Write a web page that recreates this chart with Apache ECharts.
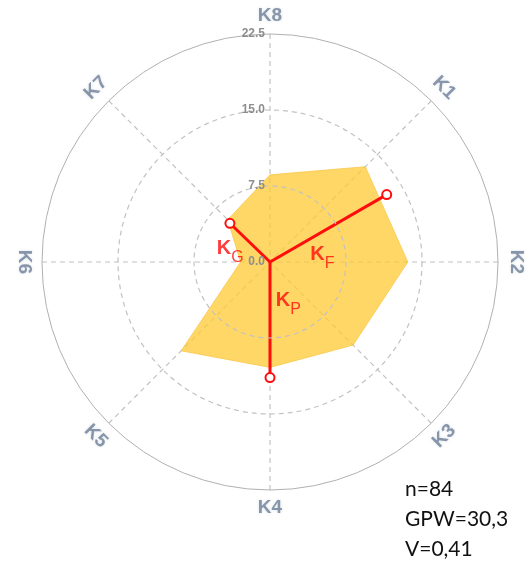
<!DOCTYPE html>
<html>
<head>
<meta charset="utf-8">
<script src="https://cdn.jsdelivr.net/npm/echarts@6/dist/echarts.min.js"></script>
<style>
  html, body { margin: 0; padding: 0; background: #fff; }
  #chart { width: 528px; height: 564px; }
</style>
</head>
<body>
<div id="chart"></div>
<script>
// sectors, clockwise from top-right; K8 sits at the top
const sectors = ['K1', 'K2', 'K3', 'K4', 'K5', 'K6', 'K7', 'K8'];
const sectorAngles = [45, 90, 135, 180, 225, 270, 315, 360];
const sectorValues = [13.3, 13.6, 11.6, 10.4, 12.4, 2.9, 5.9, 8.6];

// resultant vectors drawn in red
const vectorNames = ['G', 'F', 'P'];
const vectorAngles = [314, 60, 180];
const vectorLengths = [5.5, 13.3, 11.4];
// where the K_x labels sit (radius, angle)
const vectorLabelRadius = [4.1, 5.2, 4.3];
const vectorLabelAngle = [287, 83, 155];

const radiusMax = 22.5;
const radiusStep = 7.5;
const statsLines = ['n=84', 'GPW=30,3', 'V=0,41'];

const axisGrey = '#6e7f99';
const red = '#ff0d0d';

const chart = echarts.init(document.getElementById('chart'), null, { renderer: 'canvas' });

const polygon = sectors.map((s, i) => [sectorValues[i], sectorAngles[i]]);
polygon.unshift([sectorValues[7], 0]);

// labels are turned to follow the ring, kept upright
const nameRotate = a => {
    let r = -a;
    while (r < -90) r += 180;
    while (r > 90) r -= 180;
    return r;
};

const vectorSeries = vectorNames.map((n, i) => ({
    type: 'line',
    coordinateSystem: 'polar',
    z: 5,
    symbol: 'emptyCircle',
    symbolSize: 9,
    showSymbol: true,
    lineStyle: { color: red, width: 3 },
    itemStyle: { color: red, borderWidth: 1.5 },
    data: [
        { value: [0, vectorAngles[i]], symbol: 'none' },
        [vectorLengths[i], vectorAngles[i]]
    ],
    animation: false
}));

chart.setOption({
    animation: false,
    title: {
        text: statsLines.join('\n'),
        left: 400,
        top: 469,
        textStyle: {
            fontFamily: 'Lato',
            fontWeight: 'normal',
            fontSize: 21,
            lineHeight: 30,
            color: '#111'
        }
    },
    polar: {
        center: [270, 262],
        radius: 228
    },
    angleAxis: {
        type: 'value',
        min: 0,
        max: 360,
        interval: 45,
        startAngle: 90,
        clockwise: true,
        axisLine: { lineStyle: { color: '#b0b0b0', width: 1 } },
        axisTick: { show: false },
        axisLabel: { show: false },
        splitLine: { lineStyle: { color: '#c2c2c2', type: [5, 4], width: 1.2 } }
    },
    radiusAxis: {
        min: 0,
        max: radiusMax,
        interval: radiusStep,
        axisLine: { show: false },
        axisTick: { show: false },
        axisLabel: {
            formatter: v => v.toFixed(1),
            color: '#8e8e8e',
            fontFamily: 'Arial',
            fontSize: 12,
            fontWeight: 'bold',
            margin: 5
        },
        splitLine: {
            lineStyle: {
                color: ['#c2c2c2', '#c2c2c2', '#c2c2c2', 'rgba(0,0,0,0)'],
                type: [5, 4],
                width: 1.2
            }
        },
        z: 10
    },
    series: [
        {
            type: 'line',
            coordinateSystem: 'polar',
            symbol: 'none',
            z: 2,
            lineStyle: { color: '#f9c84a', width: 1, opacity: 0.8 },
            areaStyle: { color: '#ffc933', opacity: 0.75 },
            data: polygon
        },
        ...vectorSeries,
        {
            type: 'scatter',
            coordinateSystem: 'polar',
            symbolSize: 0,
            z: 6,
            clip: false,
            label: {
                show: true,
                position: 'inside',
                formatter: p => '{k|K}{s|' + p.data[2] + '}',
                rich: {
                    k: { fontFamily: 'Arial', fontSize: 20, fontWeight: 'bold', color: red, lineHeight: 22, verticalAlign: 'top' },
                    s: { fontFamily: 'Arial', fontSize: 16, color: red, lineHeight: 16, padding: [11, 0, 0, 0], verticalAlign: 'top' }
                }
            },
            data: vectorNames.map((n, i) => [vectorLabelRadius[i], vectorLabelAngle[i], n])
        },
        {
            type: 'scatter',
            coordinateSystem: 'polar',
            symbolSize: 0,
            clip: false,
            silent: true,
            data: sectors.map((s, i) => ({
                value: [radiusMax + 1.8, sectorAngles[i], s],
                label: { rotate: nameRotate(sectorAngles[i]) }
            })),
            label: {
                show: true,
                position: 'inside',
                formatter: p => p.data.value[2],
                color: axisGrey,
                fontFamily: 'Arial',
                fontSize: 19,
                fontWeight: 'bold',
                textShadowColor: 'rgba(110,126,151,0.3)',
                textShadowBlur: 3
            }
        }
    ]
});
</script>
</body>
</html>
